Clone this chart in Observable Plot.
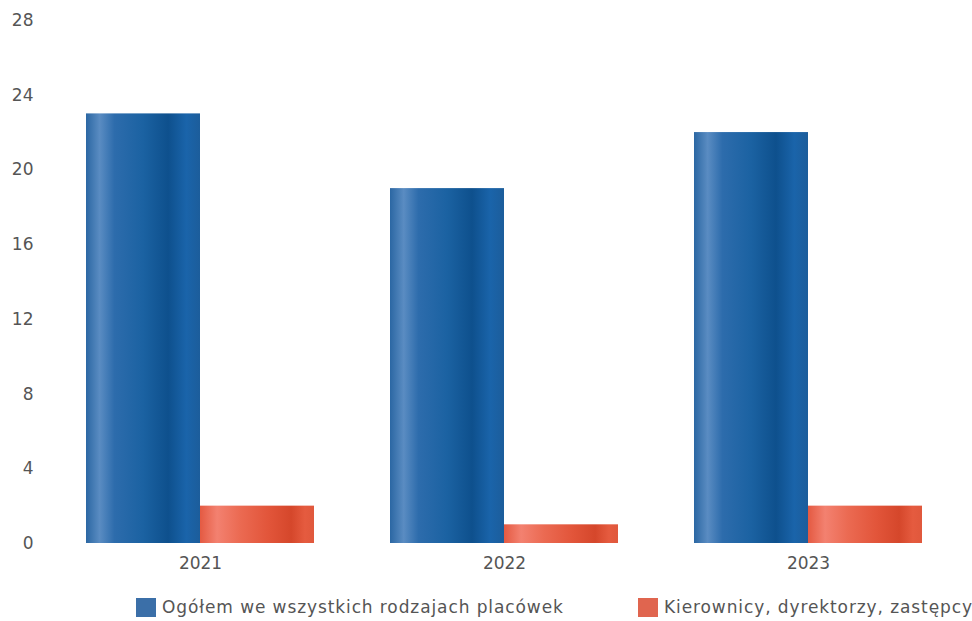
<!DOCTYPE html>
<html>
<head>
<meta charset="utf-8">
<script src="https://cdn.jsdelivr.net/npm/d3@7"></script>
<script src="https://cdn.jsdelivr.net/npm/@observablehq/plot@0.6"></script>
<style>
  body { margin: 0; background: #fff; font-family: "DejaVu Sans", sans-serif; }
  #chart svg { display: block; }
  .legend { position: relative; height: 33px; width: 972px; font-size: 17px; color: #555; letter-spacing: 0.9px; }
  .legend .item { position: absolute; top: 9px; display: flex; align-items: center; white-space: nowrap; }
  .legend .sw { width: 20px; height: 19px; margin-right: 6px; }
</style>
</head>
<body>
<div id="chart"></div>
<div class="legend" id="legend"></div>
<script>
const years = ["2021", "2022", "2023"];
const series = ["Ogółem we wszystkich rodzajach placówek", "Kierownicy, dyrektorzy, zastępcy"];
const ogolem = [23, 19, 22];
const kierownicy = [2, 1, 2];
const yTicks = [0, 4, 8, 12, 16, 20, 24, 28];
const legendColors = ["#3b6fa8", "#e0654f"];

const data = [];
years.forEach((yr, i) => {
  data.push({year: yr, series: series[0], value: ogolem[i]});
  data.push({year: yr, series: series[1], value: kierownicy[i]});
});

const chart = Plot.plot({
  width: 972,
  height: 588,
  marginLeft: 47,
  marginRight: 11.5,
  marginTop: 20,
  marginBottom: 45,
  style: {fontFamily: "DejaVu Sans, sans-serif", fontSize: "17px", color: "#555", background: "#fff"},
  fx: {domain: years, paddingInner: 0.25, paddingOuter: 0.125, label: null},
  x: {domain: series, padding: 0, axis: null},
  y: {domain: [0, 28], ticks: yTicks},
  color: {domain: series, range: ["url(#gBlue)", "url(#gRed)"]},
  marks: [
    Plot.barY(data, {fx: "year", x: "series", y: "value", fill: "series", inset: 0}),
    Plot.axisY({ticks: yTicks, tickSize: 0, tickPadding: 53, label: null, fill: "#555"}),
    Plot.axisFx({anchor: "bottom", tickSize: 0, tickPadding: 13, label: null, fill: "#555"})
  ]
});

const ns = "http://www.w3.org/2000/svg";
const defs = document.createElementNS(ns, "defs");
function grad(id, stops) {
  const g = document.createElementNS(ns, "linearGradient");
  g.setAttribute("id", id);
  g.setAttribute("x1", "0"); g.setAttribute("x2", "1");
  g.setAttribute("y1", "0"); g.setAttribute("y2", "0");
  stops.forEach(([o, c]) => {
    const s = document.createElementNS(ns, "stop");
    s.setAttribute("offset", o);
    s.setAttribute("stop-color", c);
    g.appendChild(s);
  });
  defs.appendChild(g);
}
grad("gBlue", [[0, "#2b67a3"], [0.12, "#5a8cc2"], [0.25, "#2d6cac"], [0.5, "#1b62a2"], [0.72, "#0e508d"], [0.88, "#1a64aa"], [1, "#1c5d9b"]]);
grad("gRed", [[0, "#e45a42"], [0.15, "#f38170"], [0.35, "#eb6a52"], [0.6, "#e2553a"], [0.8, "#d5472b"], [0.92, "#e55b3f"], [1, "#e0583c"]]);
chart.insertBefore(defs, chart.firstChild);

document.getElementById("chart").appendChild(chart);

const legend = document.getElementById("legend");
const positions = [136, 638];
series.forEach((s, i) => {
  const it = document.createElement("div");
  it.className = "item";
  it.style.left = positions[i] + "px";
  const sw = document.createElement("div");
  sw.className = "sw";
  sw.style.background = legendColors[i];
  const t = document.createElement("span");
  t.textContent = s;
  it.appendChild(sw); it.appendChild(t);
  legend.appendChild(it);
});
</script>
</body>
</html>
